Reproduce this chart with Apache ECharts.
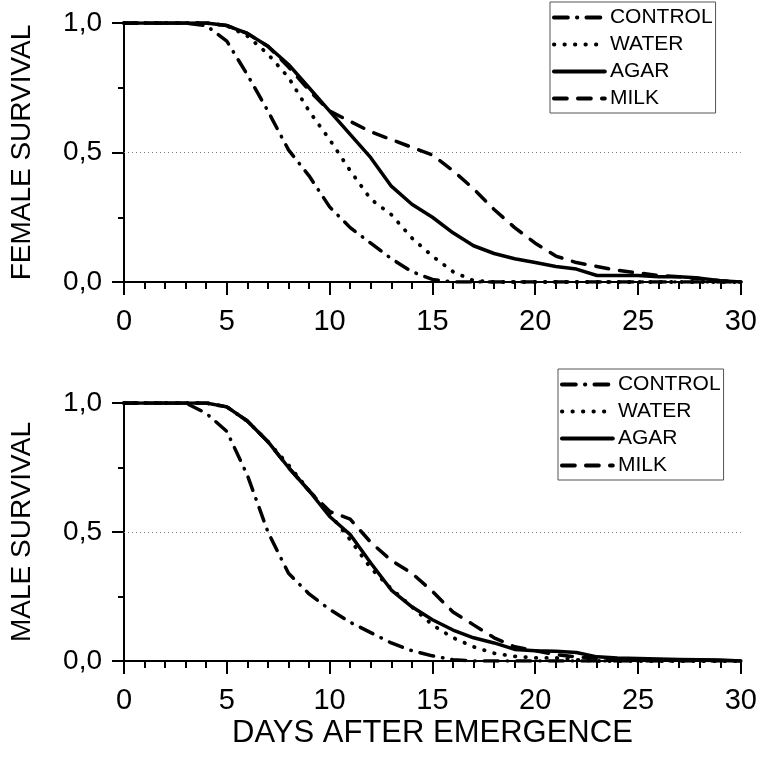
<!DOCTYPE html>
<html>
<head>
<meta charset="utf-8">
<script src="https://cdn.jsdelivr.net/npm/echarts@6/dist/echarts.min.js"></script>
<style>
html,body{margin:0;padding:0;background:#fff;}
#chart{width:760px;height:764px;}
</style>
</head>
<body>
<div id="chart"></div>
<script>
// Days after emergence (x categories)
const days = [0,1,2,3,4,5,6,7,8,9,10,11,12,13,14,15,16,17,18,19,20,21,22,23,24,25,26,27,28,29,30];
const seriesNames = ['CONTROL','WATER','AGAR','MILK'];
const xTicks = [0,5,10,15,20,25,30];
const yTicks = [0,0.5,1];

// Female survival
const femaleControl = [1,1,1,1,0.99,0.93,0.80,0.66,0.51,0.41,0.29,0.21,0.15,0.09,0.04,0.01,0,0,0,0,0,0,0,0,0,0,0,0,0,0,0];
const femaleWater   = [1,1,1,1,1,0.99,0.95,0.88,0.79,0.66,0.55,0.43,0.32,0.26,0.17,0.10,0.04,0.005,0,0,0,0,0,0,0,0,0,0,0,0,0];
const femaleAgar    = [1,1,1,1,1,0.99,0.96,0.91,0.84,0.75,0.66,0.57,0.48,0.37,0.30,0.25,0.19,0.14,0.11,0.09,0.075,0.06,0.05,0.025,0.025,0.025,0.02,0.02,0.015,0.005,0];
const femaleMilk    = [1,1,1,1,1,0.99,0.96,0.91,0.83,0.74,0.66,0.62,0.58,0.55,0.52,0.49,0.43,0.36,0.28,0.21,0.15,0.10,0.075,0.06,0.045,0.035,0.025,0.02,0.012,0.005,0];

// Male survival
const maleControl = [1,1,1,1,0.96,0.89,0.72,0.50,0.34,0.26,0.20,0.15,0.11,0.07,0.04,0.02,0.005,0,0,0,0,0,0,0,0,0,0,0,0,0,0];
const maleWater   = [1,1,1,1,1,0.985,0.93,0.85,0.76,0.66,0.57,0.47,0.36,0.28,0.21,0.14,0.09,0.055,0.03,0.018,0.012,0.012,0.005,0,0,0,0,0,0,0,0];
const maleAgar    = [1,1,1,1,1,0.985,0.93,0.85,0.75,0.66,0.56,0.49,0.38,0.275,0.21,0.16,0.12,0.09,0.07,0.045,0.04,0.038,0.033,0.016,0.012,0.01,0.008,0.006,0.005,0.004,0];
const maleMilk    = [1,1,1,1,1,0.985,0.93,0.85,0.75,0.66,0.58,0.55,0.46,0.39,0.34,0.27,0.19,0.14,0.09,0.055,0.04,0.025,0.016,0.01,0.008,0.006,0.005,0.004,0.003,0.002,0];

const FONT = "'Liberation Sans', Arial, Helvetica, sans-serif";

const styles = {
  CONTROL: {width:3.5, type:[14,9,0.5,9], cap:'round'},
  WATER:   {width:3.8, type:[0.5,10], cap:'round'},
  AGAR:    {width:3.5, type:'solid', cap:'round'},
  MILK:    {width:3.5, type:[13,11], cap:'round'}
};

function pairs(vals){ return days.map((d,i)=>[d, vals[i]]); }

function makeSeries(name, vals, gi, withMark){
  const s = {
    name: name, type:'line', xAxisIndex: gi, yAxisIndex: gi,
    data: pairs(vals), symbol:'none', smooth:false, silent:true,
    itemStyle:{color:'#000'},
    lineStyle: Object.assign({color:'#000', join:'round'}, styles[name]),
    z: 3
  };
  if (withMark){
    s.markLine = {
      silent:true, symbol:['none','none'], label:{show:false},
      lineStyle:{color:'#777', width:1, type:[1,3]},
      data:[{yAxis:0.5}], z:1
    };
  }
  return s;
}

function xAxis(gi, withName){
  return {
    type:'value', gridIndex:gi, min:0, max:30, interval:5,
    axisLine:{show:true, onZero:false, lineStyle:{color:'#000', width:2}},
    axisTick:{show:true, length:13, lineStyle:{color:'#000', width:2}},
    minorTick:{show:true, splitNumber:5, length:7, lineStyle:{color:'#000', width:2}},
    splitLine:{show:false},
    axisLabel:{color:'#000', fontSize:29, fontFamily:FONT, margin:25},
    name: withName ? 'DAYS AFTER EMERGENCE' : '',
    nameLocation:'middle', nameGap:57,
    nameTextStyle:{color:'#000', fontSize:31, fontFamily:FONT}
  };
}
function yAxis(gi, name){
  return {
    type:'value', gridIndex:gi, min:0, max:1, interval:0.5,
    axisLine:{show:true, onZero:false, lineStyle:{color:'#000', width:2}},
    axisTick:{show:true, length:12, lineStyle:{color:'#000', width:2}},
    minorTick:{show:true, splitNumber:2, length:6, lineStyle:{color:'#000', width:2}},
    splitLine:{show:false},
    axisLabel:{color:'#000', fontSize:28, fontFamily:FONT, margin:22,
      formatter:(v)=>v.toFixed(1).replace('.',',')},
    name:name, nameLocation:'middle', nameRotate:90, nameGap:88,
    nameTextStyle:{color:'#000', fontSize:28, fontFamily:FONT}
  };
}
function legend(left, top){
  return {
    show:true, orient:'vertical', left:left, top:top,
    data: seriesNames,
    itemWidth:51, itemHeight:14, itemGap:6,
    padding:[5,3,4,2],
    borderColor:'#555', borderWidth:1, backgroundColor:'#fff',
    selectedMode:false,
    itemStyle:{opacity:0, borderWidth:0},
    lineStyle:{width:3.8, color:'#000'},
    textStyle:{color:'#000', fontSize:21, fontFamily:FONT, lineHeight:20}
  };
}

const chart = echarts.init(document.getElementById('chart'), null, {renderer:'canvas'});
chart.setOption({
  animation:false,
  backgroundColor:'#fff',
  grid:[
    {left:122, right:19, top:23, height:259},
    {left:122, right:19, top:403, height:258}
  ],
  xAxis:[xAxis(0,false), xAxis(1,true)],
  yAxis:[yAxis(0,'FEMALE SURVIVAL'), yAxis(1,'MALE SURVIVAL')],
  legend:[legend(550,2), legend(558,369)],
  series:[
    makeSeries('CONTROL', femaleControl, 0, false),
    makeSeries('WATER', femaleWater, 0, false),
    makeSeries('AGAR', femaleAgar, 0, true),
    makeSeries('MILK', femaleMilk, 0, false),
    makeSeries('CONTROL', maleControl, 1, false),
    makeSeries('WATER', maleWater, 1, false),
    makeSeries('AGAR', maleAgar, 1, true),
    makeSeries('MILK', maleMilk, 1, false)
  ]
});
</script>
</body>
</html>
